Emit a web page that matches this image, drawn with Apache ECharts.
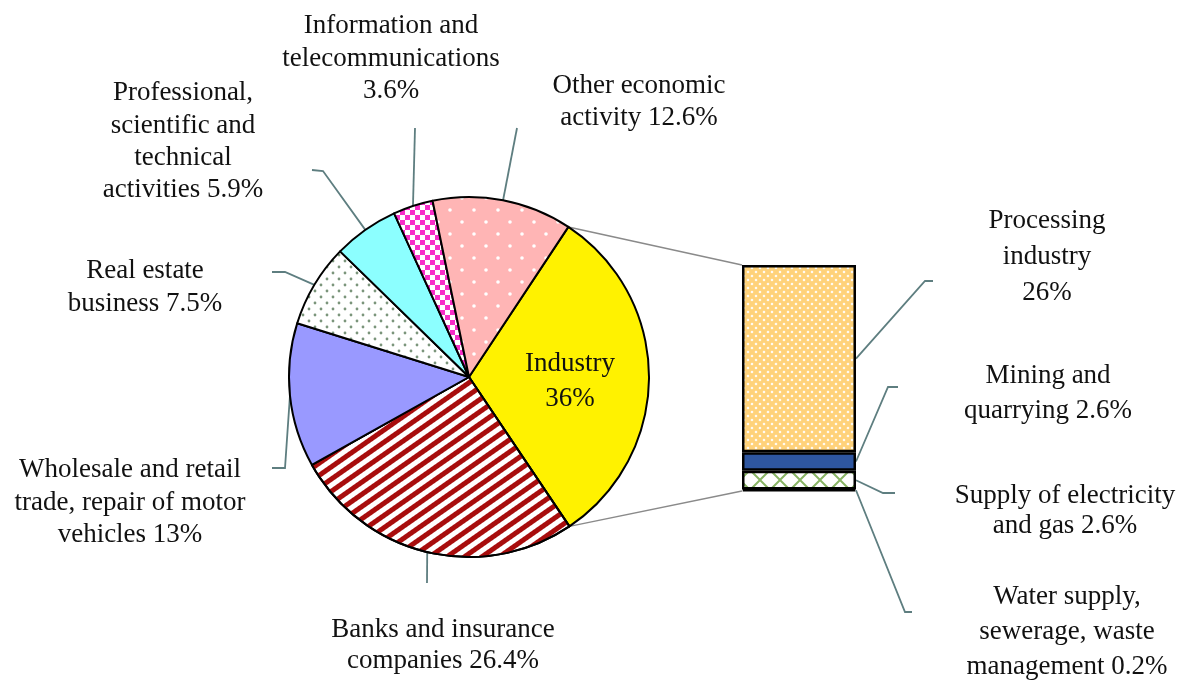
<!DOCTYPE html>
<html>
<head>
<meta charset="utf-8">
<script src="https://cdn.jsdelivr.net/npm/echarts@6.0.0/dist/echarts.min.js"></script>
<style>
  html, body { margin: 0; background: #fff; }
  #main { width: 1182px; height: 680px; }
</style>
</head>
<body>
<div id="main"></div>
<script>
const pieNames = [
  'Industry',
  'Banks and insurance\ncompanies',
  'Wholesale and retail\ntrade, repair of motor\nvehicles',
  'Real estate\nbusiness',
  'Professional,\nscientific and\ntechnical\nactivities',
  'Information and\ntelecommunications',
  'Other economic\nactivity'
];
const piePercents = [36, 26.4, 13, 7.5, 5.9, 3.6, 12.6];

const barNames = [
  'Processing\nindustry',
  'Mining and\nquarrying',
  'Supply of electricity\nand gas',
  'Water supply,\nsewerage, waste\nmanagement'
];
const barPercents = [26, 2.6, 2.6, 0.2];

// the industry slice is drawn as the sum of its breakdown, like the original chart
const industryShare = barPercents.reduce((a, b) => a + b, 0);
const pieValues = piePercents.map((v, i) => (i === 0 ? industryShare : v));

const FONT = 'Liberation Serif';
const TEXT = '#111';
const LEADER = { color: '#5e7e80', width: 1.8 };
const PIE_CENTER = [469, 377];
const PIE_R = 180;
const START = 56.5;
const GRID = { left: 742, top: 265, width: 114, height: 226 };

// label placement: centre x, top y, line height, percent on its own line, leader bends
const pieLabelPos = [
  { x: 570, y: 346, lh: 35, br: true },
  { x: 443, y: 614, lh: 31, line: [[427, 583]] },
  { x: 130, y: 454, lh: 32.5, line: [[285, 468], [272, 468]] },
  { x: 145, y: 254, lh: 33, line: [[285, 272], [272, 272]] },
  { x: 183, y: 77, lh: 32.3, line: [[323, 171], [312, 170]] },
  { x: 391, y: 10, lh: 32.5, br: true, line: [[415, 128]] },
  { x: 639, y: 70, lh: 32, line: [[517, 128]] }
];
const barLabelPos = [
  { x: 1047, y: 203, lh: 36, br: true, line: [[925, 281], [933, 281]] },
  { x: 1048, y: 358, lh: 35, line: [[888, 387], [898, 387]] },
  { x: 1065, y: 481, lh: 30, line: [[883, 493], [895, 493]] },
  { x: 1067, y: 579, lh: 35, line: [[905, 612], [912, 612]] }
];

function tile(w, h, draw) {
  const c = document.createElement('canvas');
  c.width = w;
  c.height = h;
  draw(c.getContext('2d'), w, h);
  return { image: c, repeat: 'repeat' };
}

function dots(bg, fg, size, r) {
  return tile(size, size, (ctx) => {
    ctx.fillStyle = bg;
    ctx.fillRect(0, 0, size, size);
    ctx.fillStyle = fg;
    [[size / 4, size / 4], [size * 3 / 4, size * 3 / 4]].forEach(([x, y]) => {
      ctx.beginPath();
      ctx.arc(x, y, r, 0, Math.PI * 2);
      ctx.fill();
    });
  });
}

function cross(bg, fg, size, width) {
  return tile(size, size, (ctx, w, h) => {
    ctx.fillStyle = bg;
    ctx.fillRect(0, 0, w, h);
    ctx.strokeStyle = fg;
    ctx.lineWidth = width;
    for (const dx of [-w, 0, w]) {
      ctx.beginPath();
      ctx.moveTo(dx, 0); ctx.lineTo(dx + w, h);
      ctx.moveTo(dx + w, 0); ctx.lineTo(dx, h);
      ctx.stroke();
    }
  });
}

const checker = tile(10, 10, (ctx) => {
  ctx.fillStyle = '#fff';
  ctx.fillRect(0, 0, 10, 10);
  ctx.fillStyle = '#f72ec8';
  ctx.fillRect(0, 0, 5, 5);
  ctx.fillRect(5, 5, 5, 5);
});

const pieStyles = [
  { color: '#fff200' },
  {
    color: '#fff',
    decal: {
      symbol: 'rect', symbolSize: 1, dashArrayX: [1, 0], dashArrayY: [4.5, 5],
      rotation: -35 * Math.PI / 180, color: '#a80d0d'
    }
  },
  { color: '#9999ff' },
  { color: dots('#fff', '#7b957b', 12, 1.4) },
  { color: '#8cffff' },
  { color: checker },
  { color: dots('#ffb5b5', '#fff', 24, 1.8) }
];
const barStyles = [
  { color: cross('#fff', '#ffd27a', 8, 3.5) },
  { color: '#2e56a0' },
  { color: cross('#fff', '#88b464', 20, 2) },
  { color: '#fff' }
];

const chart = echarts.init(document.getElementById('main'));

const labelBase = { color: TEXT, fontFamily: FONT, fontSize: 27 };

const pieSeries = {
  type: 'pie',
  center: PIE_CENTER,
  radius: PIE_R,
  startAngle: START,
  clockwise: true,
  avoidLabelOverlap: false,
  silent: true,
  itemStyle: { borderColor: '#000', borderWidth: 2 },
  label: Object.assign({
    show: true,
    formatter: (p) => p.name + (pieLabelPos[p.dataIndex].br ? '\n' : ' ') + piePercents[p.dataIndex] + '%'
  }, labelBase),
  labelLine: { show: true, lineStyle: LEADER },
  labelLayout: (p) => {
    const pos = pieLabelPos[p.dataIndex];
    const out = { x: pos.x, y: pos.y, align: 'center', verticalAlign: 'top' };
    if (pos.line && p.labelLinePoints) {
      out.labelLinePoints = [p.labelLinePoints[0]].concat(pos.line);
    }
    return out;
  },
  data: pieNames.map((name, i) => ({
    name,
    value: pieValues[i],
    itemStyle: pieStyles[i],
    label: { lineHeight: pieLabelPos[i].lh, position: i === 0 ? 'inside' : 'outside' }
  }))
};

const barSeries = barNames.map((name, i) => ({
  type: 'bar',
  name,
  stack: 'industry',
  barWidth: '100%',
  silent: true,
  data: [barPercents[i]],
  itemStyle: Object.assign({ borderColor: '#000', borderWidth: 2.5 }, barStyles[i]),
  label: Object.assign({
    show: true,
    position: 'right',
    lineHeight: barLabelPos[i].lh,
    formatter: () => name + (barLabelPos[i].br ? '\n' : ' ') + barPercents[i] + '%'
  }, labelBase),
  labelLayout: () => {
    const pos = barLabelPos[i];
    return { x: pos.x, y: pos.y, align: 'center', verticalAlign: 'top' };
  }
})).reverse();

chart.setOption({
  animation: false,
  backgroundColor: '#fff',
  grid: GRID,
  xAxis: { type: 'category', data: ['Industry'], show: false },
  yAxis: { type: 'value', min: 0, max: industryShare, show: false },
  series: [pieSeries].concat(barSeries)
});

// grey connectors from the industry slice to the breakdown bar
function piePoint(deg) {
  const a = deg * Math.PI / 180;
  return [PIE_CENTER[0] + PIE_R * Math.cos(a), PIE_CENTER[1] - PIE_R * Math.sin(a)];
}
const pieTotal = pieValues.reduce((a, b) => a + b, 0);
const endAngle = START - 360 * pieValues[0] / pieTotal;
const barTop = chart.convertToPixel({ yAxisIndex: 0 }, industryShare);
const barBottom = chart.convertToPixel({ yAxisIndex: 0 }, 0);
const p0 = piePoint(START);
const p1 = piePoint(endAngle);

// leader lines of the bar labels start at the middle of each stacked segment
const barMid = [];
let acc = 0;
for (let i = barPercents.length - 1; i >= 0; i--) {
  barMid[i] = acc + barPercents[i] / 2;
  acc += barPercents[i];
}
const barRight = GRID.left + GRID.width;
const barLeaders = barLabelPos.map((pos, i) => ({
  type: 'polyline',
  silent: true,
  shape: { points: [[barRight, chart.convertToPixel({ yAxisIndex: 0 }, barMid[i])]].concat(pos.line) },
  style: { stroke: LEADER.color, lineWidth: LEADER.width, fill: null }
}));

chart.setOption({
  graphic: [
    { type: 'line', silent: true, z: 0, shape: { x1: p0[0], y1: p0[1], x2: GRID.left, y2: barTop }, style: { stroke: '#8a8a8a', lineWidth: 1.5 } },
    { type: 'line', silent: true, z: 0, shape: { x1: p1[0], y1: p1[1], x2: GRID.left, y2: barBottom }, style: { stroke: '#8a8a8a', lineWidth: 1.5 } }
  ].concat(barLeaders)
});
</script>
</body>
</html>
